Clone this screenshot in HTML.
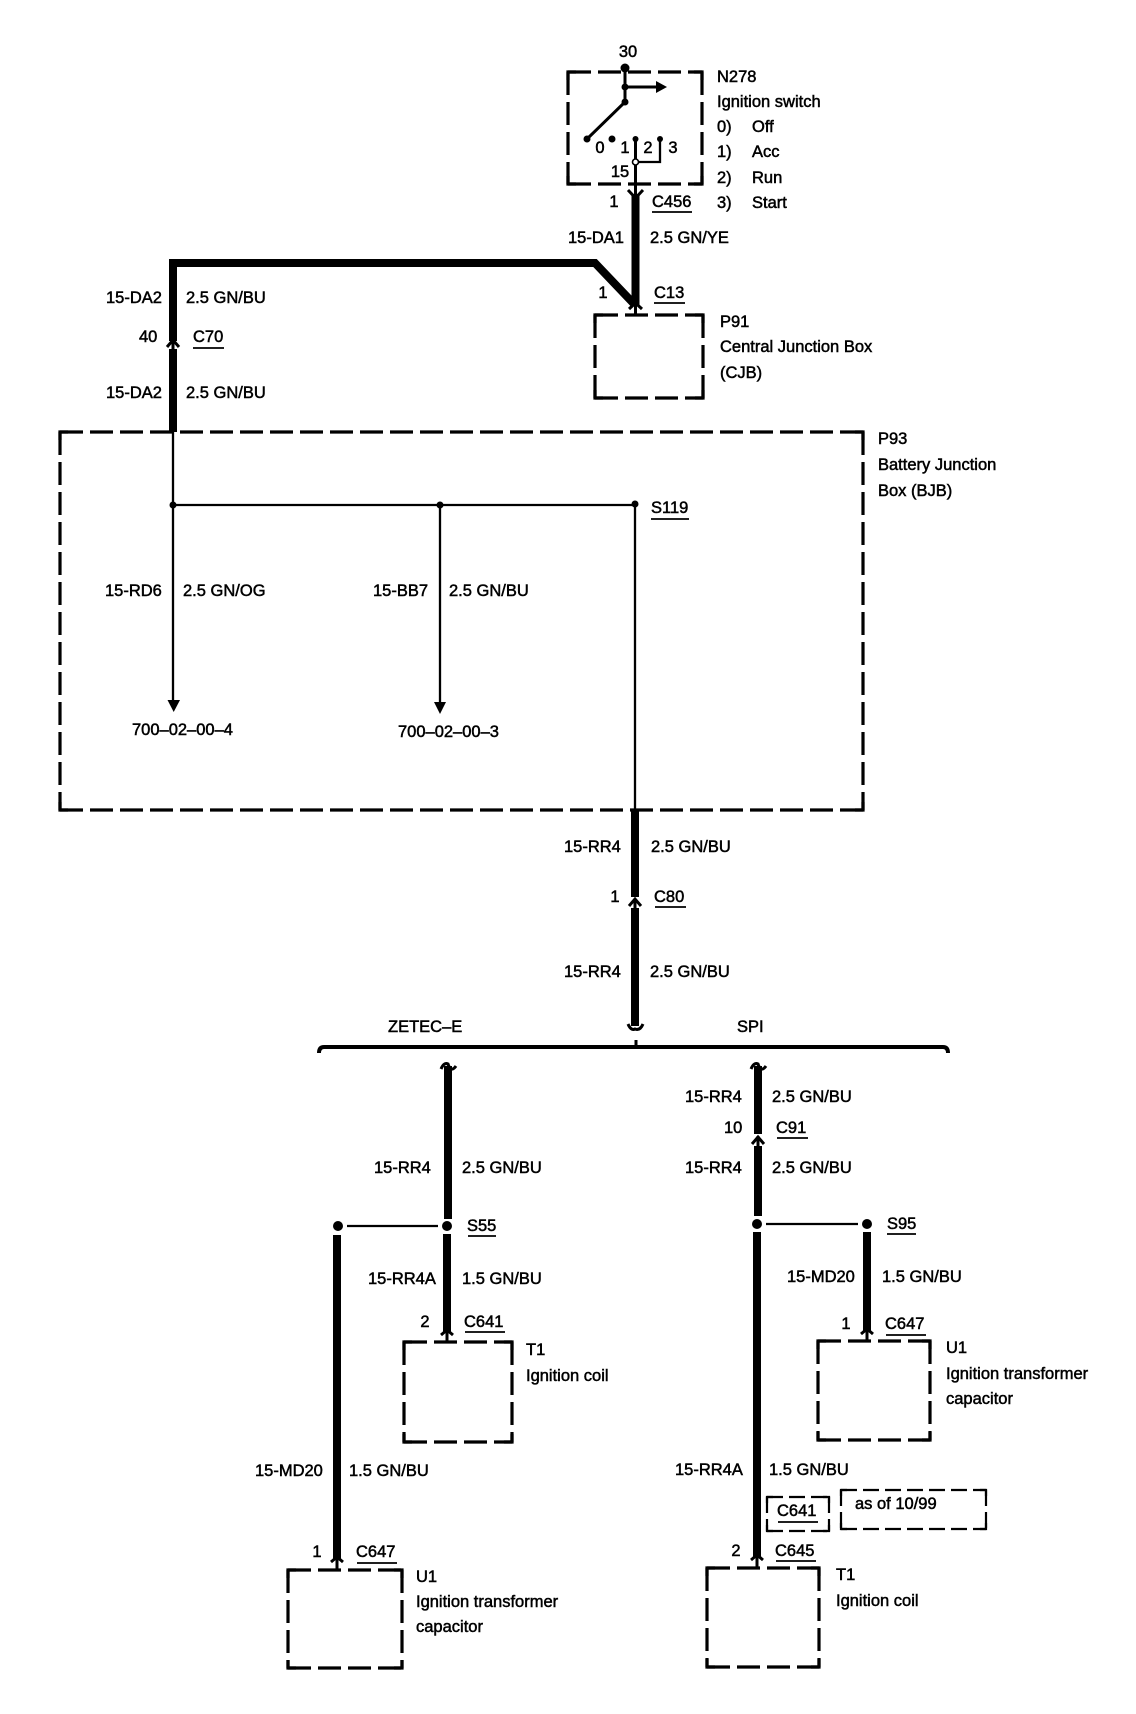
<!DOCTYPE html>
<html><head><meta charset="utf-8"><style>
html,body{margin:0;padding:0;background:#fff}
svg{display:block}
text{font-family:"Liberation Sans",Arial,sans-serif;font-size:16.5px;fill:#000;stroke:#000;stroke-width:.5px}
.w{fill:none;stroke:#000;stroke-width:8}
.t{fill:none;stroke:#000;stroke-width:2.3}
.m{fill:none;stroke:#000;stroke-width:3}
.u{fill:none;stroke:#000;stroke-width:1.8}
.d{fill:none;stroke:#000;stroke-width:3.2;stroke-dasharray:23 7}
.d2{fill:none;stroke:#000;stroke-width:2.2;stroke-dasharray:16 6}
.c{fill:none;stroke:#000;stroke-width:3.2}
.c2{fill:none;stroke:#000;stroke-width:2.2}
</style></head><body>
<svg width="1136" height="1714" viewBox="0 0 1136 1714" xmlns="http://www.w3.org/2000/svg">
<rect width="1136" height="1714" fill="#fff"/>

<!-- dashed boxes -->
<path class="d" d="M568,72H702M702,72V184M568,184H702M568,72V184"/>
<path class="c" d="M568,80V72H576M694,72H702V80M702,176V184H694M576,184H568V176"/>
<path class="d" d="M595,315H703M703,315V398M595,398H703M595,315V398"/>
<path class="c" d="M595,323V315H603M695,315H703V323M703,390V398H695M603,398H595V390"/>
<path class="d" d="M60,432H863M863,432V810M60,810H863M60,432V810"/>
<path class="c" d="M60,440V432H68M855,432H863V440M863,802V810H855M68,810H60V802"/>
<path class="d" d="M404,1342H512M512,1342V1442M404,1442H512M404,1342V1442"/>
<path class="c" d="M404,1350V1342H412M504,1342H512V1350M512,1434V1442H504M412,1442H404V1434"/>
<path class="d" d="M818,1341H930M930,1341V1440M818,1440H930M818,1341V1440"/>
<path class="c" d="M818,1349V1341H826M922,1341H930V1349M930,1432V1440H922M826,1440H818V1432"/>
<path class="d" d="M288,1570H402M402,1570V1668M288,1668H402M288,1570V1668"/>
<path class="c" d="M288,1578V1570H296M394,1570H402V1578M402,1660V1668H394M296,1668H288V1660"/>
<path class="d" d="M707,1568H819M819,1568V1667M707,1667H819M707,1568V1667"/>
<path class="c" d="M707,1576V1568H715M811,1568H819V1576M819,1659V1667H811M715,1667H707V1659"/>
<path class="d2" d="M767,1497H829M829,1497V1531M767,1531H829M767,1497V1531"/>
<path class="c2" d="M767,1503V1497H773M823,1497H829V1503M829,1525V1531H823M773,1531H767V1525"/>
<path class="d2" d="M841,1490H986M986,1490V1529M841,1529H986M841,1490V1529"/>
<path class="c2" d="M841,1496V1490H847M980,1490H986V1496M986,1523V1529H980M847,1529H841V1523"/>

<!-- ignition switch internals -->
<path class="m" d="M625,68V102L587,139"/>
<path class="m" d="M625,87H658"/>
<polygon points="656,81 667,87 656,93"/>
<path class="m" d="M635.5,139V194"/>
<path class="t" d="M635.5,162H660V139"/>
<circle cx="625" cy="68" r="4.5"/><circle cx="625" cy="87" r="3.5"/><circle cx="625" cy="102" r="3.5"/>
<circle cx="587" cy="139" r="3.5"/><circle cx="612" cy="139" r="3.5"/><circle cx="635.5" cy="139" r="3"/><circle cx="660" cy="139" r="3"/>
<circle cx="635.5" cy="162" r="3" fill="#fff" stroke="#000" stroke-width="1.6"/>

<!-- thick wires -->
<path class="w" d="M635.5,194V306"/>
<path class="w" d="M173,432V263H595L635,305" stroke-linejoin="miter"/>
<path d="M173,341V349" stroke="#fff" stroke-width="10" fill="none"/>
<path class="w" d="M635,810V897"/>
<path class="w" d="M635,908V1026"/>
<path class="w" d="M448,1066V1219"/>
<path class="w" d="M447,1234V1333"/>
<path class="w" d="M758,1066V1134"/>
<path class="w" d="M758,1146V1216"/>
<path class="w" d="M757,1232V1558"/>
<path class="w" d="M867,1232V1332"/>
<path class="w" d="M337,1235V1560"/>

<!-- thin wires -->
<path class="t" d="M173,432V702"/>
<path class="t" d="M173,505H635"/>
<path class="t" d="M440,505V704"/>
<path class="t" d="M635,505V812"/>
<path class="t" d="M347,1226H438"/>
<path class="t" d="M766,1224H858"/>
<polygon points="167.5,700 180,700 173.7,712"/>
<polygon points="434,702 446,702 440,714"/>
<circle cx="173" cy="505" r="3.5"/><circle cx="440" cy="505" r="3.5"/><circle cx="635" cy="504" r="3.5"/>
<circle cx="338" cy="1226" r="5"/><circle cx="447" cy="1226" r="5"/>
<circle cx="757" cy="1224" r="5"/><circle cx="867" cy="1224" r="5"/>

<!-- connector marks -->
<path class="m" d="M628,190L635.5,198L643,190"/>
<path class="m" d="M629,309L635.5,303L642,309M635.5,305V315"/>
<path class="m" d="M167,347L173,340L179,347M173,340V352"/>
<path class="m" d="M629,906L635,899L641,906M635,899V910"/>
<path class="m" d="M752,1144L758,1137L764,1144M758,1136V1148"/>
<path class="m" d="M441,1335L447,1330L453,1335M447,1330V1342"/>
<path class="m" d="M861,1334L867,1329L873,1334M867,1329V1341"/>
<path class="m" d="M331,1562L337,1557L343,1562M337,1557V1570"/>
<path class="m" d="M751,1560L757,1555L763,1560M757,1555V1568"/>

<!-- waves -->
<path class="m" d="M628,1024Q631,1031 635,1029Q640,1031 643,1024"/>
<path class="m" d="M441,1069Q444,1062 448,1064Q451,1073 456,1066"/>
<path class="m" d="M751,1069Q754,1062 758,1064Q761,1073 766,1066"/>

<!-- bus bar -->
<path d="M319,1053Q319,1047 324,1047H943Q948,1047 948,1053" fill="none" stroke="#000" stroke-width="4"/>
<path class="m" d="M636,1040V1047"/>

<!-- underlines -->
<path class="u" d="M652,212H692M654,303H685M193,348H224M651,519H689M655,907H686M777,1138H808M468,1236H496M887,1234H916M465,1332H505M886,1335H926M357,1563H397M776,1561H816M778,1522H818"/>

<!-- labels -->
<text x="628" y="57" text-anchor="middle">30</text>
<text x="717" y="82">N278</text>
<text x="717" y="107">Ignition switch</text>
<text x="717" y="132">0)</text><text x="752" y="132">Off</text>
<text x="717" y="157">1)</text><text x="752" y="157">Acc</text>
<text x="717" y="183">2)</text><text x="752" y="183">Run</text>
<text x="717" y="208">3)</text><text x="752" y="208">Start</text>
<text x="600" y="153" text-anchor="middle">0</text>
<text x="625" y="153" text-anchor="middle">1</text>
<text x="648" y="153" text-anchor="middle">2</text>
<text x="673" y="153" text-anchor="middle">3</text>
<text x="620" y="177" text-anchor="middle">15</text>
<text x="614" y="207" text-anchor="middle">1</text>
<text x="652" y="207">C456</text>
<text x="568" y="243">15-DA1</text>
<text x="650" y="243">2.5 GN/YE</text>
<text x="603" y="298" text-anchor="middle">1</text>
<text x="654" y="298">C13</text>
<text x="720" y="327">P91</text>
<text x="720" y="352">Central Junction Box</text>
<text x="720" y="378">(CJB)</text>
<text x="106" y="303">15-DA2</text>
<text x="186" y="303">2.5 GN/BU</text>
<text x="139" y="342">40</text>
<text x="193" y="342">C70</text>
<text x="106" y="398">15-DA2</text>
<text x="186" y="398">2.5 GN/BU</text>
<text x="878" y="444">P93</text>
<text x="878" y="470">Battery Junction</text>
<text x="878" y="496">Box (BJB)</text>
<text x="651" y="513">S119</text>
<text x="105" y="596">15-RD6</text>
<text x="183" y="596">2.5 GN/OG</text>
<text x="373" y="596">15-BB7</text>
<text x="449" y="596">2.5 GN/BU</text>
<text x="132" y="735">700–02–00–4</text>
<text x="398" y="737">700–02–00–3</text>
<text x="564" y="852">15-RR4</text>
<text x="651" y="852">2.5 GN/BU</text>
<text x="615" y="902" text-anchor="middle">1</text>
<text x="654" y="902">C80</text>
<text x="564" y="977">15-RR4</text>
<text x="650" y="977">2.5 GN/BU</text>
<text x="388" y="1032">ZETEC–E</text>
<text x="737" y="1032">SPI</text>
<text x="685" y="1102">15-RR4</text>
<text x="772" y="1102">2.5 GN/BU</text>
<text x="724" y="1133">10</text>
<text x="776" y="1133">C91</text>
<text x="685" y="1173">15-RR4</text>
<text x="772" y="1173">2.5 GN/BU</text>
<text x="374" y="1173">15-RR4</text>
<text x="462" y="1173">2.5 GN/BU</text>
<text x="467" y="1231">S55</text>
<text x="887" y="1229">S95</text>
<text x="368" y="1284">15-RR4A</text>
<text x="462" y="1284">1.5 GN/BU</text>
<text x="787" y="1282">15-MD20</text>
<text x="882" y="1282">1.5 GN/BU</text>
<text x="425" y="1327" text-anchor="middle">2</text>
<text x="464" y="1327">C641</text>
<text x="846" y="1329" text-anchor="middle">1</text>
<text x="885" y="1329">C647</text>
<text x="526" y="1355">T1</text>
<text x="526" y="1381">Ignition coil</text>
<text x="946" y="1353">U1</text>
<text x="946" y="1379">Ignition transformer</text>
<text x="946" y="1404">capacitor</text>
<text x="255" y="1476">15-MD20</text>
<text x="349" y="1476">1.5 GN/BU</text>
<text x="675" y="1475">15-RR4A</text>
<text x="769" y="1475">1.5 GN/BU</text>
<text x="777" y="1516">C641</text>
<text x="855" y="1509">as of 10/99</text>
<text x="317" y="1557" text-anchor="middle">1</text>
<text x="356" y="1557">C647</text>
<text x="736" y="1556" text-anchor="middle">2</text>
<text x="775" y="1556">C645</text>
<text x="416" y="1582">U1</text>
<text x="416" y="1607">Ignition transformer</text>
<text x="416" y="1632">capacitor</text>
<text x="836" y="1580">T1</text>
<text x="836" y="1606">Ignition coil</text>
</svg>
</body></html>
